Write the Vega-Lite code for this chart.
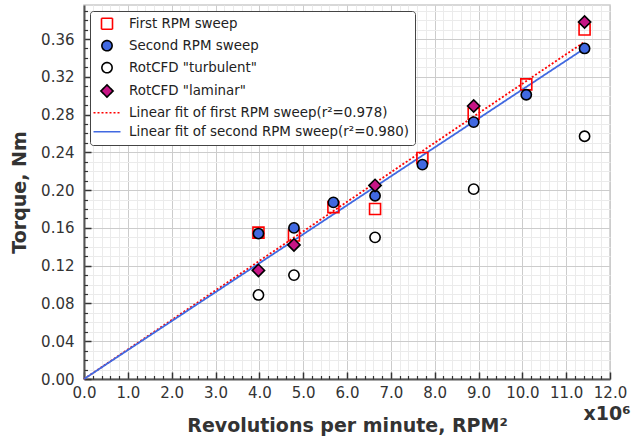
{
  "$schema": "https://vega.github.io/schema/vega-lite/v6.json",
  "autosize": {"type": "none"},
  "width": 526,
  "height": 374,
  "padding": {"left": 84, "top": 5, "right": 21, "bottom": 60},
  "config": {
    "font": "DejaVu Sans",
    "view": {"stroke": "#cccccc", "strokeWidth": 1.5}
  },
  "datasets": {
    "pts": [
      {"series": "First RPM sweep", "rpm2": 3.98, "torque": 0.155},
      {"series": "First RPM sweep", "rpm2": 4.79, "torque": 0.152},
      {"series": "First RPM sweep", "rpm2": 5.69, "torque": 0.182},
      {"series": "First RPM sweep", "rpm2": 6.64, "torque": 0.180},
      {"series": "First RPM sweep", "rpm2": 7.72, "torque": 0.234},
      {"series": "First RPM sweep", "rpm2": 8.89, "torque": 0.281},
      {"series": "First RPM sweep", "rpm2": 10.09, "torque": 0.312},
      {"series": "First RPM sweep", "rpm2": 11.42, "torque": 0.370},
      {"series": "Second RPM sweep", "rpm2": 3.98, "torque": 0.154},
      {"series": "Second RPM sweep", "rpm2": 4.79, "torque": 0.160},
      {"series": "Second RPM sweep", "rpm2": 5.69, "torque": 0.187},
      {"series": "Second RPM sweep", "rpm2": 6.64, "torque": 0.194},
      {"series": "Second RPM sweep", "rpm2": 7.72, "torque": 0.227},
      {"series": "Second RPM sweep", "rpm2": 8.89, "torque": 0.272},
      {"series": "Second RPM sweep", "rpm2": 10.09, "torque": 0.301},
      {"series": "Second RPM sweep", "rpm2": 11.42, "torque": 0.350},
      {"series": "RotCFD \"turbulent\"", "rpm2": 3.98, "torque": 0.089},
      {"series": "RotCFD \"turbulent\"", "rpm2": 4.79, "torque": 0.110},
      {"series": "RotCFD \"turbulent\"", "rpm2": 6.64, "torque": 0.150},
      {"series": "RotCFD \"turbulent\"", "rpm2": 8.89, "torque": 0.201},
      {"series": "RotCFD \"turbulent\"", "rpm2": 11.42, "torque": 0.257},
      {"series": "RotCFD \"laminar\"", "rpm2": 3.98, "torque": 0.115},
      {"series": "RotCFD \"laminar\"", "rpm2": 4.79, "torque": 0.142},
      {"series": "RotCFD \"laminar\"", "rpm2": 6.64, "torque": 0.205},
      {"series": "RotCFD \"laminar\"", "rpm2": 8.89, "torque": 0.289},
      {"series": "RotCFD \"laminar\"", "rpm2": 11.42, "torque": 0.378}
    ],
    "fits": [
      {"series": "Linear fit of first RPM sweep(r²=0.978)", "rpm2": 0, "torque": 0},
      {"series": "Linear fit of first RPM sweep(r²=0.978)", "rpm2": 11.42, "torque": 0.357},
      {"series": "Linear fit of second RPM sweep(r²=0.980)", "rpm2": 0, "torque": 0},
      {"series": "Linear fit of second RPM sweep(r²=0.980)", "rpm2": 11.42, "torque": 0.350}
    ]
  },
  "resolve": {"axis": {"x": "independent", "y": "independent"}},
  "layer": [
    {
      "data": {"name": "fits"},
      "mark": {"type": "line", "strokeWidth": 1.8},
      "encoding": {
        "x": {
          "field": "rpm2", "type": "quantitative",
          "scale": {"domain": [0, 12], "nice": false, "zero": false},
          "axis": {
            "orient": "bottom",
            "values": [0,1,2,3,4,5,6,7,8,9,10,11,12],
            "format": ".1f",
            "labelFontSize": 15, "labelColor": "#333333", "labelFlush": false,
            "tickSize": -7, "tickColor": "#333333", "tickWidth": 1.5, "labelPadding": 13,
            "domainColor": "#555555", "domainWidth": 2,
            "grid": true, "gridColor": "#cccccc", "gridWidth": 1,
            "title": "Revolutions per minute, RPM²",
            "titleFontSize": 19, "titleFontWeight": "bold", "titleColor": "#333333",
            "titleBaseline": "alphabetic", "titleY": 52
          }
        },
        "y": {
          "field": "torque", "type": "quantitative",
          "scale": {"domain": [0, 0.396], "nice": false, "zero": false},
          "axis": {
            "orient": "left",
            "values": [0,0.04,0.08,0.12,0.16,0.2,0.24,0.28,0.32,0.36],
            "format": ".2f",
            "labelFontSize": 15, "labelColor": "#333333",
            "tickSize": -7, "tickColor": "#333333", "tickWidth": 1.5, "labelPadding": 17,
            "domainColor": "#555555", "domainWidth": 2,
            "grid": true, "gridColor": "#cccccc", "gridWidth": 1,
            "title": "Torque, Nm",
            "titleFontSize": 19, "titleFontWeight": "bold", "titleColor": "#333333",
            "titleBaseline": "alphabetic", "titleX": -59
          }
        },
        "stroke": {
          "field": "series", "type": "nominal",
          "scale": {
            "domain": ["First RPM sweep", "Second RPM sweep", "RotCFD \"turbulent\"", "RotCFD \"laminar\"", "Linear fit of first RPM sweep(r²=0.978)", "Linear fit of second RPM sweep(r²=0.980)"],
            "range": ["#ff0000", "#000000", "#000000", "#000000", "#ff0000", "#4169e1"]
          },
          "legend": {
            "title": null,
            "orient": "top-left",
            "offset": 6,
            "padding": 6,
            "rowPadding": 4,
            "symbolOffset": 4,
            "labelOffset": 15,
            "labelFontSize": 13.4,
            "labelColor": "#222222",
            "labelLimit": 400,
            "symbolStrokeWidth": 1.6,
            "strokeColor": "#444444",
            "fillColor": "#ffffff",
            "cornerRadius": 3
          }
        },
        "strokeDash": {
          "field": "series", "type": "nominal",
          "scale": {
            "domain": ["First RPM sweep", "Second RPM sweep", "RotCFD \"turbulent\"", "RotCFD \"laminar\"", "Linear fit of first RPM sweep(r²=0.978)", "Linear fit of second RPM sweep(r²=0.980)"],
            "range": [[1,0],[1,0],[1,0],[1,0],[2,2],[1,0]]
          }
        }
      }
    },
    {
      "data": {"name": "pts"},
      "mark": {"type": "point", "opacity": 1, "strokeWidth": 1.6},
      "encoding": {
        "x": {
          "field": "rpm2", "type": "quantitative",
          "scale": {"domain": [0, 12], "nice": false, "zero": false},
          "axis": {
            "orient": "bottom",
            "values": [0.2,0.4,0.6,0.8,1.2,1.4,1.6,1.8,2.2,2.4,2.6,2.8,3.2,3.4,3.6,3.8,4.2,4.4,4.6,4.8,5.2,5.4,5.6,5.8,6.2,6.4,6.6,6.8,7.2,7.4,7.6,7.8,8.2,8.4,8.6,8.8,9.2,9.4,9.6,9.8,10.2,10.4,10.6,10.8,11.2,11.4,11.6,11.8],
            "labels": false, "domain": false,
            "tickSize": -3.5, "tickColor": "#333333", "tickWidth": 1.2,
            "grid": true, "gridColor": "#ebebeb", "gridWidth": 1,
            "title": "x10⁶",
            "titleFontSize": 19, "titleFontWeight": "bold", "titleColor": "#333333",
            "titleAlign": "right", "titleAnchor": "end", "titleBaseline": "alphabetic",
            "titleX": 546, "titleY": 40
          }
        },
        "y": {
          "field": "torque", "type": "quantitative",
          "scale": {"domain": [0, 0.396], "nice": false, "zero": false},
          "axis": {
            "orient": "left",
            "values": [0.01,0.02,0.03,0.05,0.06,0.07,0.09,0.1,0.11,0.13,0.14,0.15,0.17,0.18,0.19,0.21,0.22,0.23,0.25,0.26,0.27,0.29,0.3,0.31,0.33,0.34,0.35,0.37,0.38,0.39],
            "labels": false, "domain": false,
            "tickSize": -3.5, "tickColor": "#333333", "tickWidth": 1.2,
            "grid": true, "gridColor": "#ebebeb", "gridWidth": 1,
            "title": null
          }
        },
        "stroke": {"field": "series", "type": "nominal"},
        "fill": {
          "field": "series", "type": "nominal",
          "scale": {
            "domain": ["First RPM sweep", "Second RPM sweep", "RotCFD \"turbulent\"", "RotCFD \"laminar\"", "Linear fit of first RPM sweep(r²=0.978)", "Linear fit of second RPM sweep(r²=0.980)"],
            "range": ["transparent", "#4169e1", "#ffffff", "#c71585", "transparent", "transparent"]
          }
        },
        "shape": {
          "field": "series", "type": "nominal",
          "scale": {
            "domain": ["First RPM sweep", "Second RPM sweep", "RotCFD \"turbulent\"", "RotCFD \"laminar\"", "Linear fit of first RPM sweep(r²=0.978)", "Linear fit of second RPM sweep(r²=0.980)"],
            "range": ["square", "circle", "circle", "diamond", "M-2.7,0L2.7,0", "M-2.7,0L2.7,0"]
          }
        },
        "size": {
          "field": "series", "type": "nominal",
          "scale": {
            "type": "ordinal",
            "domain": ["First RPM sweep", "Second RPM sweep", "RotCFD \"turbulent\"", "RotCFD \"laminar\"", "Linear fit of first RPM sweep(r²=0.978)", "Linear fit of second RPM sweep(r²=0.980)"],
            "range": [121, 105, 105, 150, 100, 100]
          }
        }
      }
    }
  ]
}
